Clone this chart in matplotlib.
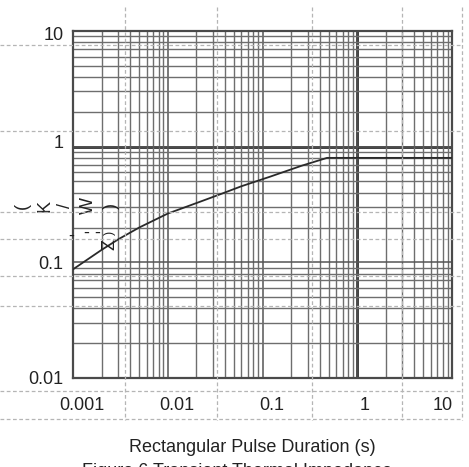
import matplotlib
matplotlib.use("Agg")
import matplotlib.pyplot as plt
from matplotlib.lines import Line2D
from matplotlib.transforms import ScaledTranslation
from matplotlib.ticker import LogLocator, NullFormatter

# ---- data ----
pulse_duration = [0.001, 0.002, 0.003, 0.005, 0.01, 0.02, 0.035, 0.06, 0.12, 0.26, 0.48, 1.0, 10.0]
zth = [0.087, 0.128, 0.158, 0.200, 0.264, 0.325, 0.385, 0.455, 0.55, 0.685, 0.80, 0.80, 0.80]
x_ticks = [0.001, 0.01, 0.1, 1, 10]
x_tick_labels = ["0.001", "0.01", "0.1", "1", "10"]
y_ticks = [0.01, 0.1, 1, 10]
y_tick_labels = ["0.01", "0.1", "1", "10"]
x_label = "Rectangular Pulse Duration (s)"
caption = "Figure 6 Transient Thermal Impedance"
ylabel_row1 = ["(", "K", "/", "W", ")"]

W, H = 469, 467
fig = plt.figure(figsize=(W / 100, H / 100), dpi=100)
plt.rcParams['font.family'] = ['Liberation Sans', 'DejaVu Sans']

def fx(px):
    return px / W

def fy(py):
    return 1 - py / H

L, R, T, B = 73, 452, 31, 378
ax = fig.add_axes([fx(L), fy(B), fx(R) - fx(L), fy(T) - fy(B)])
ax.set_xscale("log")
ax.set_yscale("log")
ax.set_xlim(0.001, 10)
ax.set_ylim(0.01, 10)

ax.xaxis.set_minor_locator(LogLocator(base=10, subs=range(2, 10), numticks=20))
ax.yaxis.set_minor_locator(LogLocator(base=10, subs=range(2, 10), numticks=20))
ax.xaxis.set_minor_formatter(NullFormatter())
ax.yaxis.set_minor_formatter(NullFormatter())
ax.grid(which="minor", color="#6e6e6e", lw=1.0)
ax.grid(which="major", color="#555555", lw=1.1)
ax.axvline(1, color="#2e2e2e", lw=2.0, zorder=1)
ax.axhline(1, color="#2e2e2e", lw=2.0, zorder=1)

ax.plot(pulse_duration, zth, color="#2a2a2a", lw=1.3, zorder=3)

ax.set_xticks(x_ticks)
ax.set_xticklabels(x_tick_labels)
ax.set_yticks(y_ticks)
ax.set_yticklabels(y_tick_labels)
ax.tick_params(which="both", length=0)
ax.tick_params(axis="x", pad=14, labelsize=13, labelcolor="#222222")
ax.tick_params(axis="y", pad=7, labelsize=13, labelcolor="#222222")
for lab, dx in zip(ax.get_xticklabels(), [9, 9, 9, 7, -9]):
    lab.set_transform(lab.get_transform() + ScaledTranslation(dx / 100, 0, fig.dpi_scale_trans))
for lab, dy in zip(ax.get_yticklabels(), [0, 0, 5, -2]):
    lab.set_transform(lab.get_transform() + ScaledTranslation(0, dy / 100, fig.dpi_scale_trans))
for s in ax.spines.values():
    s.set_color("#4a4a4a")
    s.set_linewidth(1.6)

# offset dashed frame grid
dash_kw = dict(color="#b5b5b5", lw=0.9, ls=(0, (3, 2)), transform=fig.transFigure, zorder=5)
for py in [45, 131, 212, 239, 276, 306, 391, 419]:
    fig.add_artist(Line2D([fx(0), fx(462)], [fy(py), fy(py)], **dash_kw))
for px in [125, 217, 312, 402, 462]:
    fig.add_artist(Line2D([fx(px), fx(px)], [fy(7), fy(420)], **dash_kw))

# garbled rotated y-label glyphs
for ch, px in zip(ylabel_row1, [22, 45, 66, 88, 111]):
    fig.text(fx(px), fy(206), ch, rotation=90, ha="center", va="center", fontsize=13, color="#222222")
for ch, px, py in [("-", 71, 236), ("-", 86, 233), ("-", 97, 233)]:
    fig.text(fx(px), fy(py), ch, rotation=0, ha="center", va="center", fontsize=13, color="#222222")
fig.text(fx(110), fy(233), ")", rotation=90, ha="center", va="center", fontsize=9, color="#222222")
fig.text(fx(110), fy(244), "Z", rotation=90, ha="center", va="center", fontsize=13, color="#222222")

fig.text(fx(252), fy(448), x_label, ha="center", va="center", fontsize=13, color="#222222")
fig.text(fx(237), fy(463), caption, ha="center", va="top", fontsize=13, color="#222222")

fig.savefig("out.png", dpi=100)
